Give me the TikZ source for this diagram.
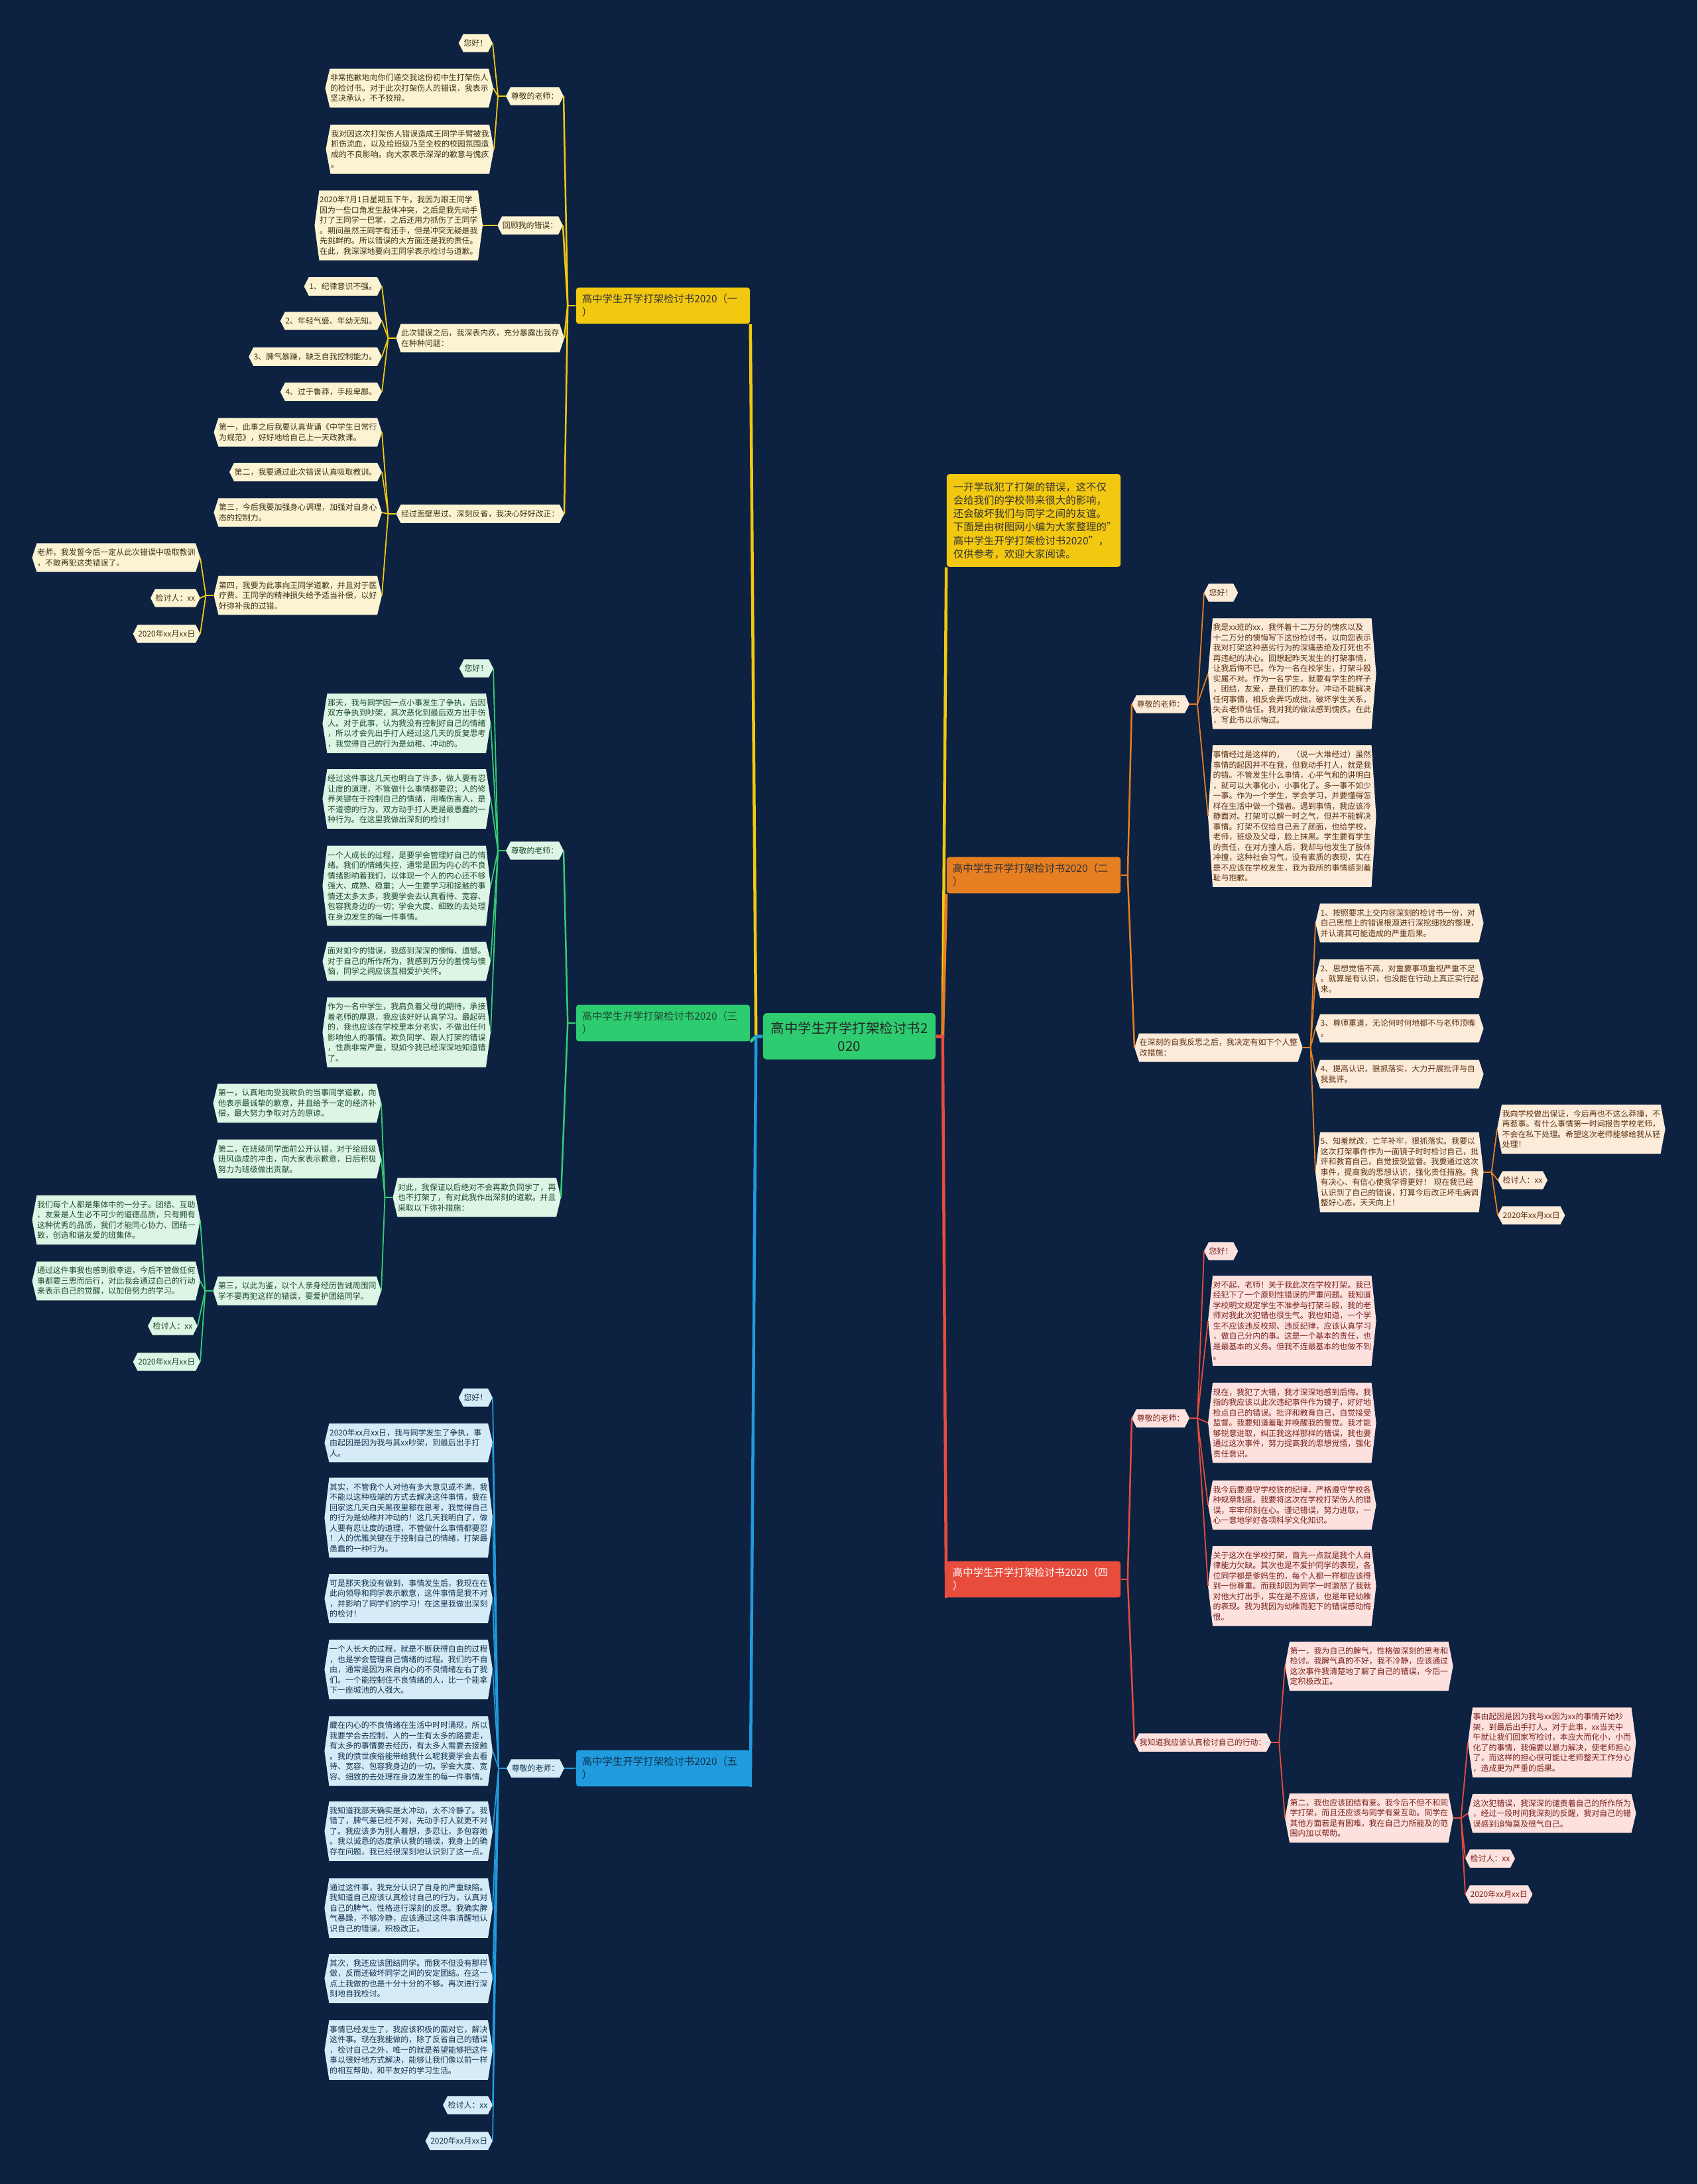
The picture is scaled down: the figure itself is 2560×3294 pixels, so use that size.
\documentclass[tikz,border=0pt]{standalone}
\usepackage{fontspec}
\setmainfont{Noto Sans CJK SC}
\usetikzlibrary{calc}

\definecolor{bgnavy}{HTML}{0C2240}
\definecolor{rootgrn}{HTML}{2ECC71}
\definecolor{yel}{HTML}{F2C811}
\definecolor{ycream}{HTML}{FCF3D3}
\definecolor{ytext}{HTML}{3B3318}
\definecolor{org}{HTML}{E67E22}
\definecolor{ocream}{HTML}{FDEBDA}
\definecolor{otext}{HTML}{5A3311}
\definecolor{grn}{HTML}{34CD75}
\definecolor{gcream}{HTML}{DCF5E4}
\definecolor{gtext}{HTML}{1E4A2E}
\definecolor{red}{HTML}{E74C3C}
\definecolor{rcream}{HTML}{FCE1DE}
\definecolor{rtext}{HTML}{7A211C}
\definecolor{blu}{HTML}{1F9BDE}
\definecolor{bcream}{HTML}{D5ECF8}
\definecolor{btext}{HTML}{12344F}

% box with pointed left and right ends
\makeatletter
\newdimen\hextip
\hextip=0.07cm
\pgfdeclareshape{hexbox}{%
  \inheritsavedanchors[from=rectangle]%
  \inheritanchorborder[from=rectangle]%
  \inheritanchor[from=rectangle]{center}%
  \inheritanchor[from=rectangle]{north}%
  \inheritanchor[from=rectangle]{south}%
  \inheritanchor[from=rectangle]{east}%
  \inheritanchor[from=rectangle]{west}%
  \inheritanchor[from=rectangle]{north east}%
  \inheritanchor[from=rectangle]{north west}%
  \inheritanchor[from=rectangle]{south east}%
  \inheritanchor[from=rectangle]{south west}%
  \backgroundpath{%
    \southwest \edef\hx@l{\the\pgf@x}\edef\hx@b{\the\pgf@y}%
    \northeast \edef\hx@r{\the\pgf@x}\edef\hx@t{\the\pgf@y}%
    \pgf@xa=\hx@l\relax \advance\pgf@xa by \hextip \edef\hx@li{\the\pgf@xa}%
    \pgf@xa=\hx@r\relax \advance\pgf@xa by -\hextip \edef\hx@ri{\the\pgf@xa}%
    \pgf@ya=\hx@b\relax \advance\pgf@ya by \hx@t\relax \divide\pgf@ya by 2 \edef\hx@m{\the\pgf@ya}%
    \pgfpathmoveto{\pgfqpoint{\hx@l}{\hx@m}}%
    \pgfpathlineto{\pgfqpoint{\hx@li}{\hx@t}}%
    \pgfpathlineto{\pgfqpoint{\hx@ri}{\hx@t}}%
    \pgfpathlineto{\pgfqpoint{\hx@r}{\hx@m}}%
    \pgfpathlineto{\pgfqpoint{\hx@ri}{\hx@b}}%
    \pgfpathlineto{\pgfqpoint{\hx@li}{\hx@b}}%
    \pgfpathclose
  }%
}
\makeatother

\newcommand\leaffont{\fontsize{3.39pt}{4.41pt}\selectfont}
\newcommand\headfont{\fontsize{4.38pt}{5.75pt}\selectfont}
\newcommand\rootfont{\fontsize{5.83pt}{7.68pt}\selectfont}

\tikzset{
  leaf/.style={shape=hexbox, inner xsep=0.07cm, inner ysep=0.075cm, font=\leaffont},
  para/.style={text width=2.38cm, align=left},
  yleaf/.style={leaf, fill=ycream, text=ytext},
  oleaf/.style={leaf, fill=ocream, text=otext},
  gleaf/.style={leaf, fill=gcream, text=gtext},
  rleaf/.style={leaf, fill=rcream, text=rtext},
  bleaf/.style={leaf, fill=bcream, text=btext},
  head/.style={rounded corners=0.04cm, inner xsep=0.09cm, inner ysep=0.1cm,
    text width=2.44cm, align=left, font=\headfont},
  trunk/.style={line width=0.045cm},
  twig/.style={line width=0.025cm},
  leafline/.style={line width=0.018cm},
}

\begin{document}
\begin{tikzpicture}[x=0.01cm, y=-0.01cm]
		\useasboundingbox (0,0) rectangle (2560,3294);
		\fill[bgnavy] (0,0) rectangle (2560,3294);

		%%%%% ROOT %%%%%
		\node[fill=rootgrn, text=black!85, rounded corners=0.05cm, inner xsep=0.11cm, inner ysep=0.125cm,
		  text width=2.38cm, align=center, font=\rootfont] (root) at (1281,1563) {高中学生开学打架检讨书2\\020};

		%%%%% BRANCH ONE %%%%%
		\node[head, fill=yel, text=black!80] (hA) at (1000,461) {高中学生开学打架检讨书2020（一\\）};

		\node[yleaf, anchor=east] (a1) at (850,145) {尊敬的老师：};
		\node[yleaf, anchor=east] (a1p1) at (743,65) {您好！};
		\node[yleaf, para, anchor=east] (a1p2) at (744,133) {非常抱歉地向你们递交我这份初中生打架伤人\\的检讨书。对于此次打架伤人的错误，我表示\\坚决承认，不予狡辩。};
		\node[yleaf, para, anchor=east] (a1p3) at (745,225) {我对因这次打架伤人错误造成王同学手臂被我\\抓伤流血，以及给班级乃至全校的校园氛围造\\成的不良影响。向大家表示深深的歉意与愧疚\\。};

		\node[yleaf, anchor=east] (a2) at (849,340) {回顾我的错误：};
		\node[yleaf, para, anchor=east] (a2p1) at (728,340) {2020年7月1日星期五下午，我因为跟王同学\\因为一些口角发生肢体冲突，之后是我先动手\\打了王同学一巴掌，之后还用力抓伤了王同学\\。期间虽然王同学有还手，但是冲突无疑是我\\先挑衅的。所以错误的大方面还是我的责任。\\在此，我深深地要向王同学表示检讨与道歉。};

		\node[yleaf, para, anchor=east] (a3) at (851,510) {此次错误之后，我深表内疚，充分暴露出我存\\在种种问题：};
		\node[yleaf, anchor=east] (a3p1) at (576,432) {1、纪律意识不强。};
		\node[yleaf, anchor=east] (a3p2) at (576,484) {2、年轻气盛、年幼无知。};
		\node[yleaf, anchor=east] (a3p3) at (576,538) {3、脾气暴躁，缺乏自我控制能力。};
		\node[yleaf, anchor=east] (a3p4) at (576,591) {4、过于鲁莽，手段卑鄙。};

		\node[yleaf, para, anchor=east] (a4) at (851,775) {经过面壁思过、深刻反省，我决心好好改正：};
		\node[yleaf, para, anchor=east] (a4p1) at (576,652) {第一，此事之后我要认真背诵《中学生日常行\\为规范》，好好地给自己上一天政教课。};
		\node[yleaf, anchor=east] (a4p2) at (576,712) {第二，我要通过此次错误认真吸取教训。};
		\node[yleaf, para, anchor=east] (a4p3) at (576,773) {第三，今后我要加强身心调理，加强对自身心\\态的控制力。};
		\node[yleaf, para, anchor=east] (a4p4) at (576,898) {第四，我要为此事向王同学道歉，并且对于医\\疗费、王同学的精神损失给予适当补偿，以好\\好弥补我的过错。};
		\node[yleaf, para, anchor=east] (a4q1) at (302,841) {老师，我发誓今后一定从此次错误中吸取教训\\，不敢再犯这类错误了。};
		\node[yleaf, anchor=east] (a4q2) at (302,902) {检讨人：xx};
		\node[yleaf, anchor=east] (a4q3) at (302,956) {2020年xx月xx日};

		%%%%% BRANCH THREE %%%%%
		\node[head, fill=rootgrn, text=gtext] (hC) at (1000,1543) {高中学生开学打架检讨书2020（三\\）};

		\node[gleaf, anchor=east] (c1) at (850,1283) {尊敬的老师：};
		\node[gleaf, anchor=east] (c1p1) at (744,1008) {您好！};
		\node[gleaf, para, anchor=east] (c1p2) at (740,1091) {那天，我与同学因一点小事发生了争执，后因\\双方争执到吵架，其次恶化到最后双方出手伤\\人。对于此事，认为我没有控制好自己的情绪\\，所以才会先出手打人经过这几天的反复思考\\，我觉得自己的行为是幼稚、冲动的。};
		\node[gleaf, para, anchor=east] (c1p3) at (740,1205) {经过这件事这几天也明白了许多，做人要有忍\\让度的道理，不管做什么事情都要忍；人的修\\养关键在于控制自己的情绪，用嘴伤害人，是\\不道德的行为，双方动手打人更是最愚蠢的一\\种行为。在这里我做出深刻的检讨！};
		\node[gleaf, para, anchor=east] (c1p4) at (740,1336) {一个人成长的过程，是要学会管理好自己的情\\绪。我们的情绪失控，通常是因为内心的不良\\情绪影响着我们，以体现一个人的内心还不够\\强大、成熟、稳重；人一生要学习和接触的事\\情还太多太多，我要学会去认真看待、宽容、\\包容我身边的一切；学会大度、细致的去处理\\在身边发生的每一件事情。};
		\node[gleaf, para, anchor=east] (c1p5) at (740,1450) {面对如今的错误，我感到深深的懊悔、遗憾。\\对于自己的所作所为，我感到万分的羞愧与懊\\恼，同学之间应该互相爱护关怀。};
		\node[gleaf, para, anchor=east] (c1p6) at (740,1557) {作为一名中学生，我肩负着父母的期待，承接\\着老师的厚恩，我应该好好认真学习。最起码\\的，我也应该在学校里本分老实，不做出任何\\影响他人的事情。欺负同学、跟人打架的错误\\，性质非常严重，现如今我已经深深地知道错\\了。};

		\node[gleaf, para, anchor=east] (c2) at (846,1806) {对此，我保证以后绝对不会再欺负同学了，再\\也不打架了，有对此我作出深刻的道歉。并且\\采取以下弥补措施：};
		\node[gleaf, para, anchor=east] (c2p1) at (575,1664) {第一，认真地向受我欺负的当事同学道歉，向\\他表示最诚挚的歉意，并且给予一定的经济补\\偿，最大努力争取对方的原谅。};
		\node[gleaf, para, anchor=east] (c2p2) at (575,1748) {第二，在班级同学面前公开认错，对于给班级\\班风造成的冲击，向大家表示歉意，日后积极\\努力为班级做出贡献。};
		\node[gleaf, para, anchor=east] (c2p3) at (575,1947) {第三，以此为鉴，以个人亲身经历告诫周围同\\学不要再犯这样的错误，要爱护团结同学。};
		\node[gleaf, para, anchor=east] (c2q1) at (302,1840) {我们每个人都是集体中的一分子。团结、互助\\、友爱是人生必不可少的道德品质，只有拥有\\这种优秀的品质，我们才能同心协力、团结一\\致，创造和谐友爱的班集体。};
		\node[gleaf, para, anchor=east] (c2q2) at (302,1932) {通过这件事我也感到很幸运，今后不管做任何\\事都要三思而后行，对此我会通过自己的行动\\来表示自己的觉醒，以加倍努力的学习。};
		\node[gleaf, anchor=east] (c2q3) at (298,2000) {检讨人：xx};
		\node[gleaf, anchor=east] (c2q4) at (302,2054) {2020年xx月xx日};

		%%%%% BRANCH FIVE %%%%%
		\node[head, fill=blu, text=btext] (hE) at (1000,2667) {高中学生开学打架检讨书2020（五\\）};

		\node[bleaf, anchor=east] (e1) at (851,2667) {尊敬的老师：};
		\node[bleaf, anchor=east] (e1p1) at (743,2108) {您好！};
		\node[bleaf, para, anchor=east] (e1p2) at (743,2176) {2020年xx月xx日，我与同学发生了争执，事\\由起因是因为我与其xx吵架，到最后出手打\\人。};
		\node[bleaf, para, anchor=east] (e1p3) at (743,2289) {其实，不管我个人对他有多大意见或不满，我\\不能以这种极端的方式去解决这件事情，我在\\回家这几天白天黑夜里都在思考，我觉得自己\\的行为是幼稚并冲动的！这几天我明白了，做\\人要有忍让度的道理，不管做什么事情都要忍\\！人的优雅关键在于控制自己的情绪，打架最\\愚蠢的一种行为。};
		\node[bleaf, para, anchor=east] (e1p4) at (743,2411) {可是那天我没有做到，事情发生后，我现在在\\此向领导和同学表示歉意，这件事情是我不对\\，并影响了同学们的学习！在这里我做出深刻\\的检讨！};
		\node[bleaf, para, anchor=east] (e1p5) at (743,2518) {一个人长大的过程，就是不断获得自由的过程\\，也是学会管理自己情绪的过程。我们的不自\\由，通常是因为来自内心的不良情绪左右了我\\们。一个能控制住不良情绪的人，比一个能拿\\下一座城池的人强大。};
		\node[bleaf, para, anchor=east] (e1p6) at (743,2641) {藏在内心的不良情绪在生活中时时涌现，所以\\我要学会去控制，人的一生有太多的路要走，\\有太多的事情要去经历，有太多人需要去接触\\。我的愤世疾俗能带给我什么呢我要学会去看\\待、宽容、包容我身边的一切。学会大度、宽\\容、细致的去处理在身边发生的每一件事情。};
		\node[bleaf, para, anchor=east] (e1p7) at (743,2762) {我知道我那天确实是太冲动，太不冷静了。我\\错了，脾气差已经不对，先动手打人就更不对\\了。我应该多为别人着想，多忍让，多包容她\\。我以诚恳的态度承认我的错误，我身上的确\\存在问题，我已经很深刻地认识到了这一点。};
		\node[bleaf, para, anchor=east] (e1p8) at (743,2878) {通过这件事，我充分认识了自身的严重缺陷。\\我知道自己应该认真检讨自己的行为，认真对\\自己的脾气、性格进行深刻的反思。我确实脾\\气暴躁，不够冷静，应该通过这件事清醒地认\\识自己的错误，积极改正。};
		\node[bleaf, para, anchor=east] (e1p9) at (743,2984) {其次，我还应该团结同学。而我不但没有那样\\做，反而还破坏同学之间的安定团结。在这一\\点上我做的也是十分十分的不够。再次进行深\\刻地自我检讨。};
		\node[bleaf, para, anchor=east] (e1p10) at (743,3092) {事情已经发生了，我应该积极的面对它，解决\\这件事。现在我能做的，除了反省自己的错误\\，检讨自己之外，唯一的就是希望能够把这件\\事以很好地方式解决，能够让我们像以前一样\\的相互帮助，和平友好的学习生活。};
		\node[bleaf, anchor=east] (e1p11) at (743,3175) {检讨人：xx};
		\node[bleaf, anchor=east] (e1p12) at (743,3229) {2020年xx月xx日};

		%%%%% INTRO %%%%%
		\node[head, fill=yel, text=black!80, inner ysep=0.12cm, text width=2.42cm, inner xsep=0.1cm] (intro) at (1559,785) {一开学就犯了打架的错误，这不仅\\会给我们的学校带来很大的影响，\\还会破坏我们与同学之间的友谊。\\下面是由树图网小编为大家整理的"\\高中学生开学打架检讨书2020"，\\仅供参考，欢迎大家阅读。};

		%%%%% BRANCH TWO %%%%%
		\node[head, fill=org, text=black!80] (hB) at (1559,1320) {高中学生开学打架检讨书2020（二\\）};

		\node[oleaf, anchor=west] (b1) at (1707,1062) {尊敬的老师：};
		\node[oleaf, anchor=west] (b1p1) at (1816,894) {您好！};
		\node[oleaf, para, anchor=west] (b1p2) at (1822,1016) {我是xx班的xx，我怀着十二万分的愧疚以及\\十二万分的懊悔写下这份检讨书，以向您表示\\我对打架这种恶劣行为的深痛恶绝及打死也不\\再违纪的决心。回想起昨天发生的打架事情，\\让我后悔不已。作为一名在校学生，打架斗殴\\实属不对。作为一名学生，就要有学生的样子\\，团结，友爱，是我们的本分。冲动不能解决\\任何事情，相反会弄巧成拙，破坏学生关系，\\失去老师信任。我对我的做法感到愧疚。在此\\，写此书以示悔过。};
		\node[oleaf, para, anchor=west] (b1p3) at (1822,1231) {事情经过是这样的，　（说一大堆经过）虽然\\事情的起因并不在我，但我动手打人，就是我\\的错。不管发生什么事情，心平气和的讲明白\\，就可以大事化小，小事化了。多一事不如少\\一事。作为一个学生，学会学习，并要懂得怎\\样在生活中做一个强者。遇到事情，我应该冷\\静面对。打架可以解一时之气，但并不能解决\\事情。打架不仅给自己丢了颜面，也给学校，\\老师，班级及父母，脸上抹黑。学生要有学生\\的责任，在对方撞人后，我却与他发生了肢体\\冲撞，这种社会习气，没有素质的表现，实在\\是不应该在学校发生，我为我所的事情感到羞\\耻与抱歉。};

		\node[oleaf, para, anchor=west] (b2) at (1711,1580) {在深刻的自我反思之后，我决定有如下个人整\\改措施：};
		\node[oleaf, para, anchor=west] (b2p1) at (1984,1392) {1、按照要求上交内容深刻的检讨书一份，对\\自己思想上的错误根源进行深挖细找的整理，\\并认清其可能造成的严重后果。};
		\node[oleaf, para, anchor=west] (b2p2) at (1984,1476) {2、思想觉悟不高，对重要事项重视严重不足\\。就算是有认识，也没能在行动上真正实行起\\来。};
		\node[oleaf, para, anchor=west] (b2p3) at (1984,1551) {3、尊师重道，无论何时何地都不与老师顶嘴\\。};
		\node[oleaf, para, anchor=west] (b2p4) at (1984,1620) {4、提高认识，狠抓落实，大力开展批评与自\\我批评。};
		\node[oleaf, para, anchor=west] (b2p5) at (1984,1768) {5、知羞就改，亡羊补牢，狠抓落实。我要以\\这次打架事件作为一面镜子时时检讨自己，批\\评和教育自己，自觉接受监督。我要通过这次\\事件，提高我的思想认识，强化责任措施。我\\有决心、有信心使我学得更好！ 现在我已经\\认识到了自己的错误，打算今后改正坏毛病调\\整好心态，天天向上！};
		\node[oleaf, para, anchor=west] (b2q1) at (2258,1703) {我向学校做出保证，今后再也不这么莽撞，不\\再惹事。有什么事情第一时间报告学校老师，\\不会在私下处理。希望这次老师能够给我从轻\\处理！};
		\node[oleaf, anchor=west] (b2q2) at (2259,1780) {检讨人：xx};
		\node[oleaf, anchor=west] (b2q3) at (2259,1833) {2020年xx月xx日};

		%%%%% BRANCH FOUR %%%%%
		\node[head, fill=red, text=white] (hD) at (1559,2382) {高中学生开学打架检讨书2020（四\\）};

		\node[rleaf, anchor=west] (d1) at (1707,2139) {尊敬的老师：};
		\node[rleaf, anchor=west] (d1p1) at (1816,1887) {您好！};
		\node[rleaf, para, anchor=west] (d1p2) at (1822,1992) {对不起，老师！关于我此次在学校打架。我已\\经犯下了一个原则性错误的严重问题。我知道\\学校明文规定学生不准参与打架斗殴，我的老\\师对我此次犯错也很生气。我也知道，一个学\\生不应该违反校规、违反纪律，应该认真学习\\，做自己分内的事。这是一个基本的责任，也\\是最基本的义务。但我不连最基本的也做不到\\。};
		\node[rleaf, para, anchor=west] (d1p3) at (1822,2146) {现在，我犯了大错，我才深深地感到后悔。我\\指的我应该以此次违纪事件作为镜子，好好地\\检点自己的错误。批评和教育自己，自觉接受\\监督。我要知道羞耻并唤醒我的警觉。我才能\\够锐意进取，纠正我这样那样的错误，我也要\\通过这次事件，努力提高我的思想觉悟，强化\\责任意识。};
		\node[rleaf, para, anchor=west] (d1p4) at (1822,2270) {我今后要遵守学校铁的纪律，严格遵守学校各\\种规章制度。我要将这次在学校打架伤人的错\\误，牢牢印刻在心。谨记错误，努力进取，一\\心一意地学好各项科学文化知识。};
		\node[rleaf, para, anchor=west] (d1p5) at (1822,2392) {关于这次在学校打架，首先一点就是我个人自\\律能力欠缺。其次也是不爱护同学的表现，各\\位同学都是爹妈生的，每个人都一样都应该得\\到一份尊重。而我却因为同学一时激怒了我就\\对他大打出手，实在是不应该，也是年轻幼稚\\的表现。我为我因为幼稚而犯下的错误感动悔\\恨。};

		\node[rleaf, anchor=west] (d2) at (1711,2628) {我知道我应该认真检讨自己的行动：};
		\node[rleaf, para, anchor=west] (d2p1) at (1938,2513) {第一，我为自己的脾气，性格做深刻的思考和\\检讨。我脾气真的不好，我不冷静，应该通过\\这次事件我清楚地了解了自己的错误，今后一\\定积极改正。};
		\node[rleaf, para, anchor=west] (d2p2) at (1938,2742) {第二，我也应该团结有爱。我今后不但不和同\\学打架，而且还应该与同学有爱互助。同学在\\其他方面若是有困难，我在自己力所能及的范\\围内加以帮助。};
		\node[rleaf, para, anchor=west] (d2q1) at (2214,2628) {事由起因是因为我与xx因为xx的事情开始吵\\架，到最后出手打人。对于此事，xx当天中\\午就让我们回家写检讨，本应大而化小，小而\\化了的事情，我偏要以暴力解决，使老师担心\\了，而这样的担心很可能让老师整天工作分心\\，造成更为严重的后果。};
		\node[rleaf, para, anchor=west] (d2q2) at (2214,2735) {这次犯错误，我深深的谴责着自己的所作所为\\，经过一段时间我深刻的反醒，我对自己的错\\误感到追悔莫及很气自己。};
		\node[rleaf, anchor=west] (d2q3) at (2210,2803) {检讨人：xx};
		\node[rleaf, anchor=west] (d2q4) at (2210,2857) {2020年xx月xx日};

		%%%%% CONNECTORS %%%%%
		\draw[trunk, yel] (root.west) -- ++(-10,0) -- (hA.south east);
		\draw[trunk, grn] (root.west) -- ++(-10,0) -- (hC.south east);
		\draw[trunk, blu] (root.west) -- ++(-10,0) -- (hE.south east);
		\draw[trunk, yel] (root.east) -- ++(10,0) -- (intro.south west);
		\draw[trunk, org] (root.east) -- ++(10,0) -- (hB.south west);
		\draw[trunk, red] (root.east) -- ++(10,0) -- (hD.south west);

		% left side
		\draw[twig, yel] (hA.west) -- ++(-12,0) coordinate (kA);
		\foreach \n in {a1,a2,a3,a4} \draw[twig, yel] (kA) -- (\n.east);
		\draw[leafline, yel] (a1.west) -- ++(-12,0) coordinate (ka1);
		\foreach \n in {a1p1,a1p2,a1p3} \draw[leafline, yel] (ka1) -- (\n.east);
		\draw[leafline, yel] (a2.west) -- (a2p1.east);
		\draw[leafline, yel] (a3.west) -- ++(-12,0) coordinate (ka3);
		\foreach \n in {a3p1,a3p2,a3p3,a3p4} \draw[leafline, yel] (ka3) -- (\n.east);
		\draw[leafline, yel] (a4.west) -- ++(-12,0) coordinate (ka4);
		\foreach \n in {a4p1,a4p2,a4p3,a4p4} \draw[leafline, yel] (ka4) -- (\n.east);
		\draw[leafline, yel] (a4p4.west) -- ++(-12,0) coordinate (kq4);
		\foreach \n in {a4q1,a4q2,a4q3} \draw[leafline, yel] (kq4) -- (\n.east);

		\draw[twig, grn] (hC.west) -- ++(-12,0) coordinate (kC);
		\foreach \n in {c1,c2} \draw[twig, grn] (kC) -- (\n.east);
		\draw[leafline, grn] (c1.west) -- ++(-12,0) coordinate (kc1);
		\foreach \n in {c1p1,c1p2,c1p3,c1p4,c1p5,c1p6} \draw[leafline, grn] (kc1) -- (\n.east);
		\draw[leafline, grn] (c2.west) -- ++(-12,0) coordinate (kc2);
		\foreach \n in {c2p1,c2p2,c2p3} \draw[leafline, grn] (kc2) -- (\n.east);
		\draw[leafline, grn] (c2p3.west) -- ++(-12,0) coordinate (kq3);
		\foreach \n in {c2q1,c2q2,c2q3,c2q4} \draw[leafline, grn] (kq3) -- (\n.east);

		\draw[twig, blu] (hE.west) -- (e1.east);
		\draw[leafline, blu] (e1.west) -- ++(-12,0) coordinate (ke1);
		\foreach \n in {e1p1,e1p2,e1p3,e1p4,e1p5,e1p6,e1p7,e1p8,e1p9,e1p10,e1p11,e1p12} \draw[leafline, blu] (ke1) -- (\n.east);

		% right side
		\draw[twig, org] (hB.east) -- ++(10,0) coordinate (kB);
		\foreach \n in {b1,b2} \draw[twig, org] (kB) -- (\n.west);
		\draw[leafline, org] (b1.east) -- ++(12,0) coordinate (kb1);
		\foreach \n in {b1p1,b1p2,b1p3} \draw[leafline, org] (kb1) -- (\n.west);
		\draw[leafline, org] (b2.east) -- ++(12,0) coordinate (kb2);
		\foreach \n in {b2p1,b2p2,b2p3,b2p4,b2p5} \draw[leafline, org] (kb2) -- (\n.west);
		\draw[leafline, org] (b2p5.east) -- ++(12,0) coordinate (kq5);
		\foreach \n in {b2q1,b2q2,b2q3} \draw[leafline, org] (kq5) -- (\n.west);

		\draw[twig, red] (hD.east) -- ++(10,0) coordinate (kD);
		\foreach \n in {d1,d2} \draw[twig, red] (kD) -- (\n.west);
		\draw[leafline, red] (d1.east) -- ++(12,0) coordinate (kd1);
		\foreach \n in {d1p1,d1p2,d1p3,d1p4,d1p5} \draw[leafline, red] (kd1) -- (\n.west);
		\draw[leafline, red] (d2.east) -- ++(12,0) coordinate (kd2);
		\foreach \n in {d2p1,d2p2} \draw[leafline, red] (kd2) -- (\n.west);
		\draw[leafline, red] (d2p2.east) -- ++(12,0) coordinate (kq2);
		\foreach \n in {d2q1,d2q2,d2q3,d2q4} \draw[leafline, red] (kq2) -- (\n.west);
\end{tikzpicture}
\end{document}
